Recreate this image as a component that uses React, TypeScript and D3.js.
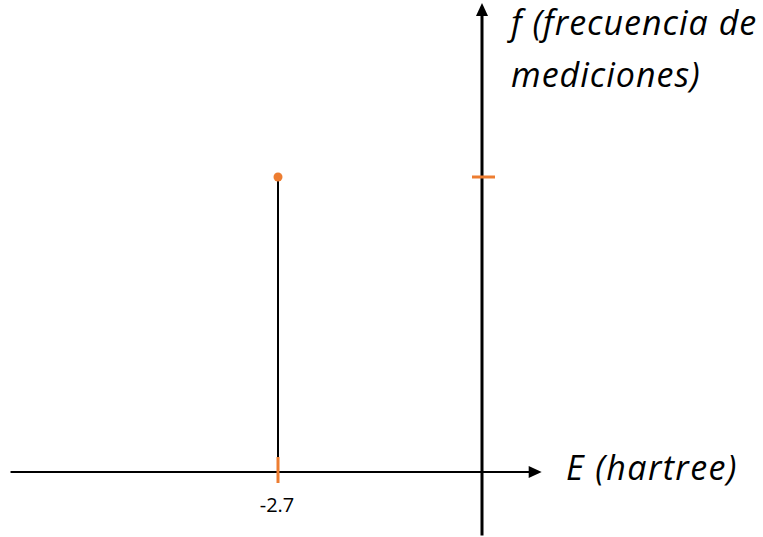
import React from "react";
import * as d3 from "d3";

// Measured energies (hartree) and their relative frequency
const energies: number[] = [-2.7];
const frequencies: number[] = [1];
const xTickLabels: string[] = ["-2.7"];
const xAxisTitle = "E (hartree)";
const yAxisTitleLines: string[] = ["f (frecuencia de", "mediciones)"];

const W = 763;
const H = 537;
const ORANGE = "#ED7D31";

export default function App() {
  const x = d3.scaleLinear().domain([-2.7, 0]).range([278, 482]);
  const y = d3.scaleLinear().domain([0, 1]).range([472, 177]);

  const x0 = x(0);
  const y0 = y(0);
  const xLeft = x(-6.24);
  const xRight = x(0.79);
  const yTop = y(1.59);
  const yBottom = y(-0.215);

  const arrowLen = 13;
  const arrowHalf = 6;

  return (
    <svg
      width={W}
      height={H}
      style={{ position: "absolute", left: 0, top: 0, background: "#fff" }}
    >
      {/* horizontal axis with arrow */}
      <line x1={xLeft} x2={xRight - arrowLen + 1} y1={y0} y2={y0} stroke="#000" strokeWidth={2} />
      <path
        d={`M${xRight},${y0} L${xRight - arrowLen},${y0 - arrowHalf} L${xRight - arrowLen},${y0 + arrowHalf} Z`}
        fill="#000"
      />
      {/* vertical axis with arrow */}
      <line x1={x0} x2={x0} y1={yBottom} y2={yTop + arrowLen - 1} stroke="#000" strokeWidth={3} />
      <path
        d={`M${x0},${yTop} L${x0 - arrowHalf},${yTop + arrowLen} L${x0 + arrowHalf},${yTop + arrowLen} Z`}
        fill="#000"
      />

      {/* stems */}
      {energies.map((e, i) => (
        <g key={i}>
          <line x1={x(e)} x2={x(e)} y1={y0} y2={y(frequencies[i])} stroke="#000" strokeWidth={2} />
          {/* tick on horizontal axis */}
          <line x1={x(e)} x2={x(e)} y1={y0 - 15} y2={y0 + 11} stroke={ORANGE} strokeWidth={3} />
          {/* tick on vertical axis */}
          <line x1={x0 - 10} x2={x0 + 13} y1={y(frequencies[i])} y2={y(frequencies[i])} stroke={ORANGE} strokeWidth={3} />
          <circle cx={x(e)} cy={y(frequencies[i])} r={4.5} fill={ORANGE} />
          <text
            x={x(e) - 1}
            y={y0 + 40}
            textAnchor="middle"
            fontFamily="'Open Sans', sans-serif"
            fontSize={20}
            fill="#000"
          >
            {xTickLabels[i]}
          </text>
        </g>
      ))}

      {/* axis titles */}
      <text
        x={566}
        y={y0 + 8}
        fontFamily="'Open Sans', sans-serif"
        fontStyle="italic"
        fontSize={34}
        letterSpacing={1.4}
        fill="#000"
      >
        {xAxisTitle}
      </text>
      {yAxisTitleLines.map((line, i) => (
        <text
          key={i}
          x={511}
          y={35 + i * 52}
          fontFamily="'Open Sans', sans-serif"
          fontStyle="italic"
          fontSize={34}
          letterSpacing={1.0}
          fill="#000"
        >
          {line}
        </text>
      ))}
    </svg>
  );
}
